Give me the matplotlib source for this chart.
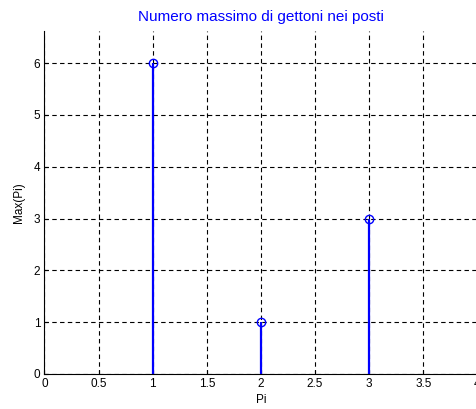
import matplotlib.pyplot as plt
import numpy as np

plt.rcParams['font.family'] = ['Liberation Sans', 'DejaVu Sans']

posti = [1, 2, 3]
max_gettoni = [6, 1, 3]
x_ticks = [0, 0.5, 1, 1.5, 2, 2.5, 3, 3.5, 4]
y_ticks = [0, 1, 2, 3, 4, 5, 6]

fig = plt.figure(figsize=(4.77, 4.09), dpi=100)
ax = fig.add_axes([44.5/477, 35/409, 433/477, 343/409])

markerline, stemlines, baseline = ax.stem(posti, max_gettoni)
plt.setp(stemlines, color='#0000ff', linewidth=1.6)
plt.setp(markerline, color='#0000ff', markerfacecolor='none', markersize=6, markeredgewidth=1)
baseline.set_visible(False)

ax.set_xlim(0, 4)
ax.set_ylim(0, 6.62)
ax.set_xticks(x_ticks)
ax.set_xticklabels(['0', '0.5', '1', '1.5', '2', '2.5', '3', '3.5', '4'])
ax.set_yticks(y_ticks)
ax.grid(True, linestyle=(0, (4, 3)), color='black', linewidth=0.8)
ax.set_axisbelow(True)
ax.tick_params(direction='in', labelsize=8.5, length=3, pad=3)
ax.spines['top'].set_visible(False)
ax.spines['right'].set_visible(False)

ax.set_title('Numero massimo di gettoni nei posti', color='#0000ff', fontsize=11, pad=7)
ax.set_xlabel('Pi', fontsize=8.5, labelpad=3)
ax.set_ylabel('Max(Pi)', fontsize=8.5, labelpad=6)

fig.savefig('out.png', dpi=100)
